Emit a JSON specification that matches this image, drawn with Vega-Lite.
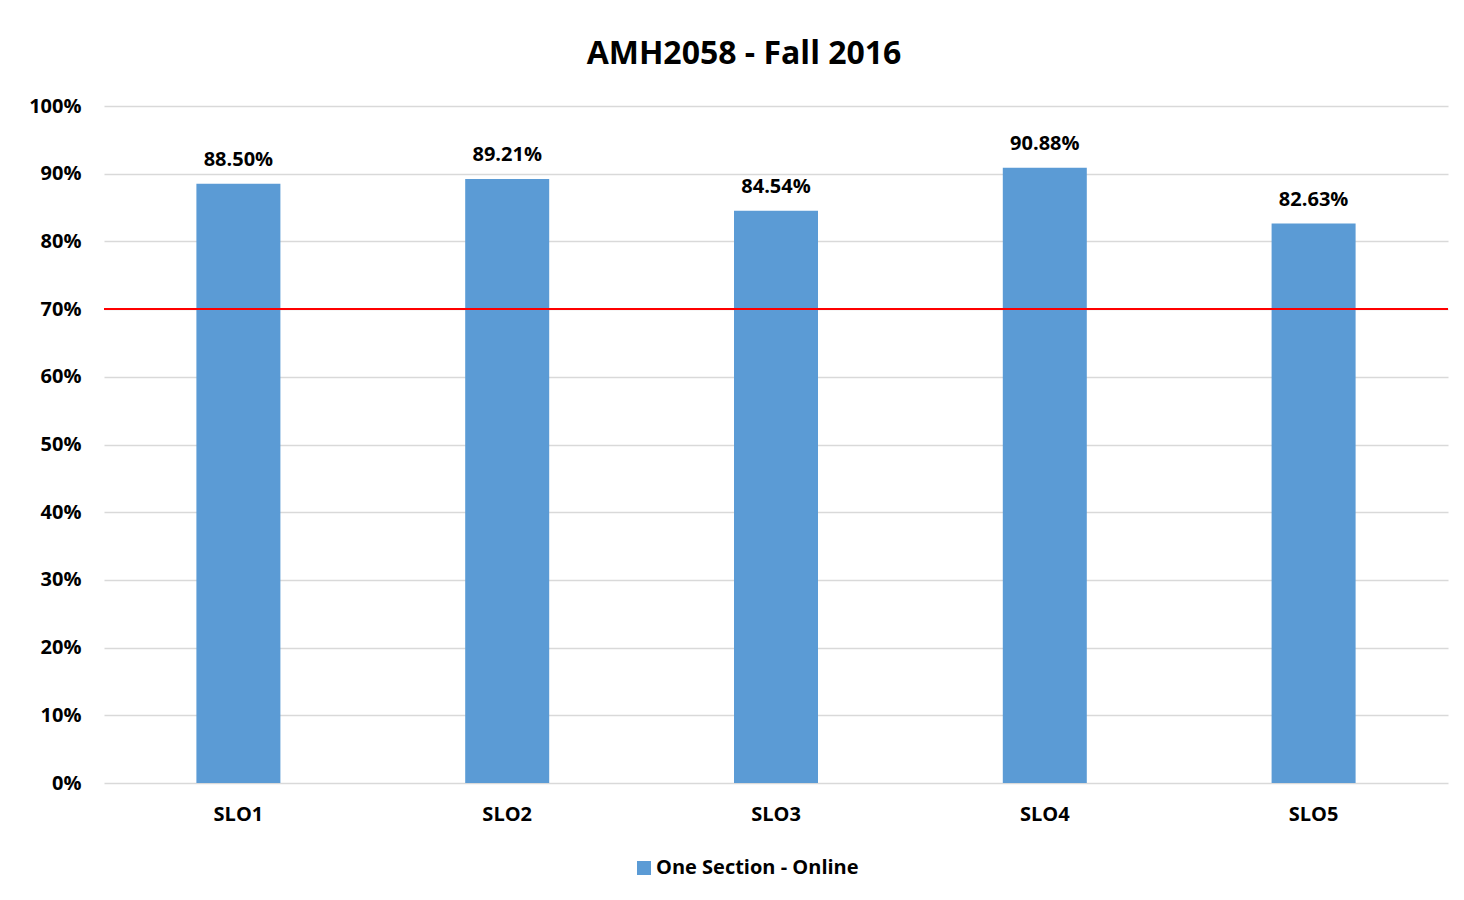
{
  "$schema": "https://vega.github.io/schema/vega-lite/v6.json",
  "width": 1344,
  "height": 677,
  "autosize": {"type": "none"},
  "padding": {"left": 104, "top": 106, "right": 16, "bottom": 117},
  "background": "white",
  "title": {
    "text": "AMH2058 - Fall 2016",
    "fontSize": 32,
    "font": "Open Sans",
    "fontWeight": "bold",
    "color": "#000000",
    "anchor": "middle",
    "dx": -32,
    "offset": 25
  },
  "config": {
    "view": {"stroke": null},
    "font": "Open Sans",
    "axis": {
      "labelFont": "Open Sans",
      "labelFontSize": 20,
      "labelFontWeight": "bold",
      "labelColor": "#000000",
      "ticks": false,
      "domain": false,
      "title": null
    }
  },
  "data": {
    "values": [
      {"slo": "SLO1", "value": 0.8850, "series": "One Section - Online"},
      {"slo": "SLO2", "value": 0.8921, "series": "One Section - Online"},
      {"slo": "SLO3", "value": 0.8454, "series": "One Section - Online"},
      {"slo": "SLO4", "value": 0.9088, "series": "One Section - Online"},
      {"slo": "SLO5", "value": 0.8263, "series": "One Section - Online"}
    ]
  },
  "encoding": {
    "x": {
      "field": "slo",
      "type": "nominal",
      "scale": {"paddingInner": 0.6875, "paddingOuter": 0.34375},
      "axis": {"labelAngle": 0, "labelPadding": 21, "grid": false}
    },
    "y": {
      "field": "value",
      "type": "quantitative",
      "scale": {"domain": [0, 1], "nice": false},
      "axis": {
        "format": ".0%",
        "values": [0, 0.1, 0.2, 0.3, 0.4, 0.5, 0.6, 0.7, 0.8, 0.9, 1],
        "labelPadding": 23,
        "grid": true,
        "gridColor": "#d9d9d9",
        "gridWidth": 1.5
      }
    }
  },
  "layer": [
    {
      "mark": {"type": "bar"},
      "encoding": {
        "color": {
          "field": "series",
          "type": "nominal",
          "scale": {"range": ["#5b9bd5"]},
          "legend": {
            "title": null,
            "orient": "none",
            "legendX": 530,
            "legendY": 752,
            "symbolType": "square",
            "symbolSize": 196,
            "symbolStrokeWidth": 0,
            "labelFont": "Open Sans",
            "labelFontSize": 20,
            "labelFontWeight": "bold",
            "labelColor": "#000000",
            "labelOffset": 2,
            "labelLimit": 0
          }
        }
      }
    },
    {
      "mark": {
        "type": "text",
        "baseline": "alphabetic",
        "dy": -18,
        "fontSize": 20,
        "fontWeight": "bold",
        "font": "Open Sans",
        "color": "#000000"
      },
      "encoding": {
        "text": {"field": "value", "type": "quantitative", "format": ".2%"}
      }
    },
    {
      "mark": {"type": "rule", "color": "#ff0000", "strokeWidth": 1.5},
      "encoding": {"y": {"datum": 0.7}, "x": null}
    }
  ]
}
